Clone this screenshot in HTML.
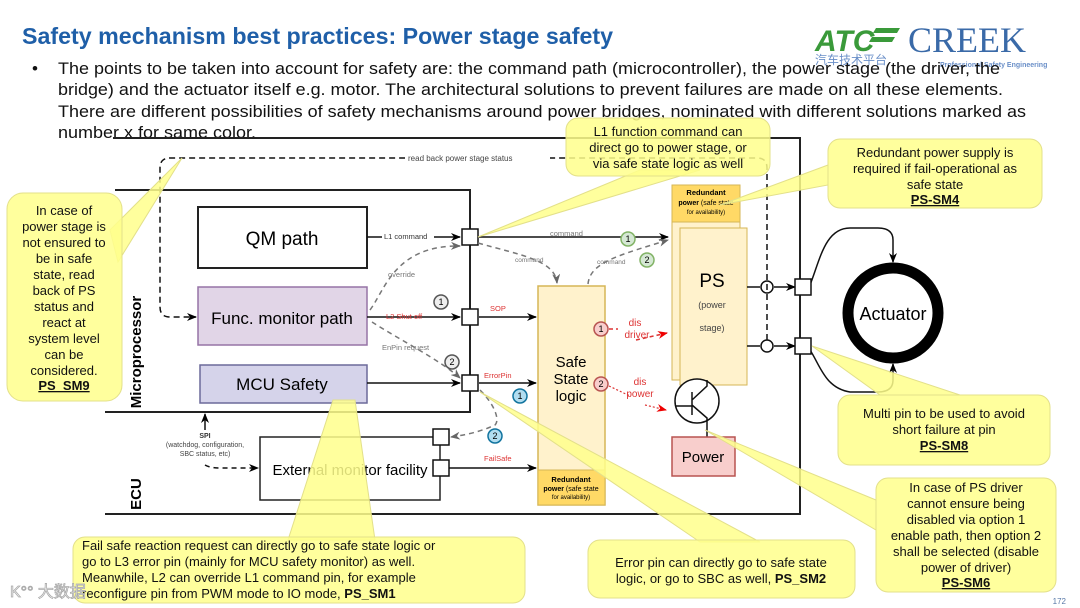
<!DOCTYPE html>
<html><head><meta charset="utf-8"><style>
html,body{margin:0;padding:0;background:#fff;}
svg{display:block;font-family:"Liberation Sans","Noto Sans CJK SC",sans-serif;}
</style></head><body>
<svg width="1080" height="608" viewBox="0 0 1080 608" xmlns="http://www.w3.org/2000/svg">
<defs>
<marker id="ab" markerWidth="10" markerHeight="8" refX="9" refY="4" orient="auto" markerUnits="userSpaceOnUse"><path d="M0,0 L10,4 L0,8 L3,4z" fill="#000"/></marker>
<marker id="ag" markerWidth="10" markerHeight="8" refX="9" refY="4" orient="auto" markerUnits="userSpaceOnUse"><path d="M0,0 L10,4 L0,8 L3,4z" fill="#666"/></marker>
<marker id="ar" markerWidth="10" markerHeight="8" refX="9" refY="4" orient="auto" markerUnits="userSpaceOnUse"><path d="M0,0 L10,4 L0,8 L3,4z" fill="#e00"/></marker>
</defs>
<!-- title -->
<text x="22" y="44" font-size="23" font-weight="bold" fill="#1f5fa8" textLength="591" lengthAdjust="spacingAndGlyphs">Safety mechanism best practices: Power stage safety</text>
<!-- logo -->
<text x="815" y="51" font-size="30" font-weight="bold" font-style="italic" fill="#3a9a3a">ATC</text>
<path d="M876,28 L900,28 L897,33 L873,33z M872,37 L895,37 L892,42 L869,42z" fill="#3a9a3a"/>
<text x="815" y="64" font-size="12" fill="#6a8fc8">汽车技术平台</text>
<text x="908" y="52" font-size="36" font-family="Liberation Serif,serif" fill="#3a6aa8">CREEK</text>
<text x="940" y="67" font-size="7" fill="#6a8fc8" font-weight="bold">Professional Safety Engineering</text>
<!-- bullet text -->
<g font-size="17" fill="#111">
<text x="32" y="74">•</text>
<text x="58" y="74" textLength="942" lengthAdjust="spacingAndGlyphs">The points to be taken into account for safety are: the command path (microcontroller), the power stage (the driver, the</text>
<text x="58" y="95" textLength="945" lengthAdjust="spacingAndGlyphs">bridge) and the actuator itself e.g. motor. The architectural solutions to prevent failures are made on all these elements.</text>
<text x="58" y="117" textLength="968" lengthAdjust="spacingAndGlyphs">There are different possibilities of safety mechanisms around power bridges, nominated with different solutions marked as</text>
<text x="58" y="138" textLength="198" lengthAdjust="spacingAndGlyphs">number x for same color.</text>
</g>
<!-- ECU frame -->
<g stroke="#222" stroke-width="2" fill="none">
<path d="M113,138 L800,138 L800,514 L105,514"/>
<path d="M115,190 L470,190 L470,412 L105,412"/>
</g>
<text transform="translate(141,352) rotate(-90)" font-size="15" font-weight="bold" text-anchor="middle">Microprocessor</text>
<text transform="translate(141,494) rotate(-90)" font-size="15" font-weight="bold" text-anchor="middle">ECU</text>
<!-- boxes -->
<rect x="198" y="207" width="169" height="61" fill="#fff" stroke="#222" stroke-width="2"/>
<text x="282" y="245" font-size="19" text-anchor="middle">QM path</text>
<rect x="198" y="287" width="169" height="58" fill="#e1d5e7" stroke="#9673a6" stroke-width="1.5"/>
<text x="282" y="324" font-size="17" text-anchor="middle">Func. monitor path</text>
<rect x="200" y="365" width="167" height="38" fill="#d5d3ea" stroke="#6c6a9a" stroke-width="1.5"/>
<text x="282" y="390" font-size="17" text-anchor="middle">MCU Safety</text>
<rect x="260" y="437" width="180" height="63" fill="#fff" stroke="#222" stroke-width="1.5"/>
<text x="350" y="475" font-size="15" text-anchor="middle">External monitor facility</text>
<!-- safe state logic -->
<rect x="538" y="286" width="67" height="219" fill="#fff2cc" stroke="#d6b656" stroke-width="1.5"/>
<rect x="538" y="470" width="67" height="35" fill="#ffd966" stroke="#d6b656" stroke-width="1"/>
<text x="571" y="367" font-size="15" text-anchor="middle">Safe</text>
<text x="571" y="384" font-size="15" text-anchor="middle">State</text>
<text x="571" y="401" font-size="15" text-anchor="middle">logic</text>
<text x="571" y="482" font-size="7.5" font-weight="bold" text-anchor="middle">Redundant</text>
<text x="571" y="491" font-size="7" text-anchor="middle"><tspan font-weight="bold">power</tspan> (safe state</text>
<text x="571" y="499" font-size="6" text-anchor="middle">for availability)</text>
<!-- PS -->
<rect x="672" y="185" width="68" height="37" fill="#ffd966" stroke="#d6b656"/>
<text x="706" y="195" font-size="7.5" font-weight="bold" text-anchor="middle">Redundant</text>
<text x="706" y="205" font-size="7" text-anchor="middle"><tspan font-weight="bold">power</tspan> (safe state</text>
<text x="706" y="214" font-size="6" text-anchor="middle">for availability)</text>
<rect x="672" y="222" width="68" height="158" fill="#fff2cc" stroke="#d6b656"/>
<rect x="680" y="228" width="67" height="157" fill="#fff2cc" stroke="#d6b656"/>
<text x="712" y="287" font-size="19" text-anchor="middle">PS</text>
<text x="712" y="308" font-size="9" fill="#444" text-anchor="middle">(power</text>
<text x="712" y="331" font-size="9" fill="#444" text-anchor="middle">stage)</text>
<!-- transistor -->
<circle cx="697" cy="401" r="22" fill="#fff" stroke="#111" stroke-width="1.5"/>
<path d="M676,406 L692,406 M692,392 L692,415 M692,400 L707,386 L707,380 M692,405 L707,418 L707,437" stroke="#111" stroke-width="1.5" fill="none"/>
<rect x="672" y="437" width="63" height="39" fill="#f8cecc" stroke="#b85450" stroke-width="1.5"/>
<text x="703" y="462" font-size="15" text-anchor="middle">Power</text>
<!-- actuator -->
<circle cx="893" cy="313" r="45" fill="#fff" stroke="#000" stroke-width="11"/>
<text x="893" y="320" font-size="18" text-anchor="middle">Actuator</text>
<path d="M810,285 C820,260 825,228 850,228 L878,228 Q893,228 893,240 L893,262" stroke="#111" stroke-width="1.5" fill="none" marker-end="url(#ab)"/>
<path d="M810,350 C820,365 825,388 850,392 L878,392 Q893,392 893,380 L893,364" stroke="#111" stroke-width="1.5" fill="none" marker-end="url(#ab)"/>
<!-- PS outputs -->
<g stroke="#111" stroke-width="1.5" fill="none">
<path d="M747,287 L760,287 M774,287 L795,287" marker-end="url(#ab)"/>
<path d="M747,346 L760,346 M774,346 L795,346" marker-end="url(#ab)"/>
</g>
<circle cx="767" cy="287" r="6" fill="#fff" stroke="#111" stroke-width="1.5"/>
<circle cx="767" cy="346" r="6" fill="#fff" stroke="#111" stroke-width="1.5"/>
<!-- read back -->
<path d="M767,340 L767,168 Q767,158 757,158 L170,158 Q160,158 160,168 L160,307 Q160,317 170,317 L196,317" stroke="#111" stroke-width="1.5" stroke-dasharray="6,4" fill="none" marker-end="url(#ab)"/>
<rect x="405" y="151" width="145" height="13" fill="#fff"/>
<text x="408" y="161" font-size="8" fill="#444">read back power stage status</text>
<!-- main connectors -->
<g stroke="#111" stroke-width="1.5" fill="none">
<path d="M367,237 L460,237" marker-end="url(#ab)"/>
<path d="M479,237 L668,237" marker-end="url(#ab)"/>
<path d="M367,317 L460,317" marker-end="url(#ab)"/>
<path d="M479,317 L536,317" marker-end="url(#ab)"/>
<path d="M367,383 L460,383" marker-end="url(#ab)"/>
<path d="M479,383 L536,383" marker-end="url(#ab)"/>
<path d="M449,468 L536,468" marker-end="url(#ab)"/>
<path d="M205,430 L205,414" marker-end="url(#ab)"/>
</g>
<path d="M205,465 Q210,468 220,468 L258,468" stroke="#111" stroke-width="1.5" stroke-dasharray="5,4" fill="none" marker-end="url(#ab)"/>
<text x="205" y="438" font-size="7" font-weight="bold" text-anchor="middle" fill="#333">SPI</text>
<text x="205" y="447" font-size="7" text-anchor="middle" fill="#444">(watchdog, configuration,</text>
<text x="205" y="456" font-size="7" text-anchor="middle" fill="#444">SBC status, etc)</text>
<!-- pins -->
<g fill="#fff" stroke="#111" stroke-width="1.5">
<rect x="462" y="229" width="16" height="16"/>
<rect x="462" y="309" width="16" height="16"/>
<rect x="462" y="375" width="16" height="16"/>
<rect x="433" y="429" width="16" height="16"/>
<rect x="433" y="460" width="16" height="16"/>
<rect x="795" y="279" width="16" height="16"/>
<rect x="795" y="338" width="16" height="16"/>
</g>
<!-- labels on lines -->
<g font-size="7.5">
<rect x="382" y="231" width="52" height="10" fill="#fff"/>
<text x="384" y="239" fill="#333">L1 command</text>
<text x="386" y="319" fill="#d33">L2 Shut off</text>
<text x="490" y="311" fill="#d33">SOP</text>
<text x="484" y="378" fill="#d33">ErrorPin</text>
<text x="484" y="461" fill="#d33">FailSafe</text>
<text x="550" y="236" fill="#777">command</text>
<text x="515" y="262" fill="#777" font-size="6.5">command</text>
<text x="597" y="264" fill="#777" font-size="6.5">command</text>
<text x="388" y="277" fill="#777">override</text>
<text x="382" y="350" fill="#777">EnPin request</text>
</g>
<!-- gray dashed -->
<g stroke="#777" stroke-width="1.5" stroke-dasharray="5,4" fill="none">
<path d="M370,310 C385,290 395,245 460,246" marker-end="url(#ag)"/>
<path d="M478,243 C520,255 555,260 557,283" marker-end="url(#ag)"/>
<path d="M588,284 C590,262 620,255 668,240" marker-end="url(#ag)"/>
<path d="M372,322 C400,340 440,360 460,378" marker-end="url(#ag)"/>
<path d="M480,390 C495,405 500,420 495,425 C480,432 465,435 451,437" marker-end="url(#ag)"/>
</g>
<!-- red -->
<path d="M609,329 L618,329 M636,340 L667,333" stroke="#d33" stroke-width="1.5" stroke-dasharray="4,3" fill="none" marker-end="url(#ar)"/>
<path d="M609,386 L630,396 M645,405 L666,410" stroke="#d33" stroke-width="1.2" stroke-dasharray="2,2" fill="none" marker-end="url(#ar)"/>
<text x="635" y="326" font-size="10" fill="#d33" text-anchor="middle">dis</text>
<text x="637" y="338" font-size="10" fill="#d33" text-anchor="middle">driver</text>
<text x="640" y="385" font-size="10" fill="#d33" text-anchor="middle">dis</text>
<text x="640" y="397" font-size="10" fill="#d33" text-anchor="middle">power</text>
<!-- number circles -->
<g font-size="9" text-anchor="middle" stroke-width="1.5">
<circle cx="441" cy="302" r="7" fill="#eee" stroke="#555"/><text x="441" y="305">1</text>
<circle cx="452" cy="362" r="7" fill="#eee" stroke="#555"/><text x="452" y="365">2</text>
<circle cx="628" cy="239" r="7" fill="#d5e8d4" stroke="#82b366"/><text x="628" y="242">1</text>
<circle cx="647" cy="260" r="7" fill="#d5e8d4" stroke="#82b366"/><text x="647" y="263">2</text>
<circle cx="601" cy="329" r="7" fill="#f8cecc" stroke="#b85450"/><text x="601" y="332">1</text>
<circle cx="601" cy="384" r="7" fill="#f8cecc" stroke="#b85450"/><text x="601" y="387">2</text>
<circle cx="520" cy="396" r="7" fill="#b1ddf0" stroke="#10739e"/><text x="520" y="399">1</text>
<circle cx="495" cy="436" r="7" fill="#b1ddf0" stroke="#10739e"/><text x="495" y="439">2</text>
</g>
<!-- callouts -->
<g fill="#ffff8c" fill-opacity="0.85" stroke="#e3e08a" stroke-width="1">
<path d="M110,230 L182,158 L118,262z"/>
<rect x="7" y="193" width="115" height="208" rx="16"/>
<path d="M640,170 L700,170 L478,237z"/>
<rect x="566" y="118" width="204" height="58" rx="12"/>
<path d="M828,165 L828,185 L720,205z"/>
<rect x="828" y="139" width="214" height="69" rx="12"/>
<path d="M880,395 L960,395 L812,346z"/>
<rect x="838" y="395" width="212" height="70" rx="12"/>
<path d="M876,500 L876,530 L705,430z"/>
<rect x="876" y="478" width="180" height="114" rx="12"/>
<path d="M700,542 L760,542 L480,392z"/>
<rect x="588" y="540" width="267" height="58" rx="12"/>
<path d="M288,540 L375,540 L355,400 L333,400z"/>
<rect x="73" y="537" width="452" height="66" rx="12"/>
</g>
<g font-size="13" fill="#111" text-anchor="middle">
<text x="64" y="215">In case of</text>
<text x="64" y="231">power stage is</text>
<text x="64" y="247">not ensured to</text>
<text x="64" y="263">be in safe</text>
<text x="64" y="279">state, read</text>
<text x="64" y="295">back of PS</text>
<text x="64" y="311">status and</text>
<text x="64" y="327">react at</text>
<text x="64" y="343">system level</text>
<text x="64" y="359">can be</text>
<text x="64" y="375">considered.</text>
<text x="64" y="390" font-weight="bold" text-decoration="underline">PS_SM9</text>
<text x="668" y="136">L1 function command can</text>
<text x="668" y="152">direct go to power stage, or</text>
<text x="668" y="168">via safe state logic as well</text>
<text x="935" y="157">Redundant power supply is</text>
<text x="935" y="173">required if fail-operational as</text>
<text x="935" y="189">safe state</text>
<text x="935" y="204" font-weight="bold" text-decoration="underline">PS-SM4</text>
<text x="944" y="418">Multi pin to be used to avoid</text>
<text x="944" y="434">short failure at pin</text>
<text x="944" y="450" font-weight="bold" text-decoration="underline">PS-SM8</text>
<text x="966" y="492">In case of PS driver</text>
<text x="966" y="508">cannot ensure being</text>
<text x="966" y="524">disabled via option 1</text>
<text x="966" y="540">enable path, then option 2</text>
<text x="966" y="556">shall be selected (disable</text>
<text x="966" y="572">power of driver)</text>
<text x="966" y="587" font-weight="bold" text-decoration="underline">PS-SM6</text>
<text x="721" y="567">Error pin can directly go to safe state</text>
<text x="721" y="583">logic, or go to SBC as well, <tspan font-weight="bold">PS_SM2</tspan></text>
</g>
<g font-size="13" fill="#111">
<text x="82" y="550">Fail safe reaction request can directly go to safe state logic or</text>
<text x="82" y="566">go to L3 error pin (mainly for MCU safety monitor) as well.</text>
<text x="82" y="582">Meanwhile, L2 can override L1 command pin, for example</text>
<text x="82" y="598">reconfigure pin from PWM mode to IO mode, <tspan font-weight="bold">PS_SM1</tspan></text>
</g>
<text x="10" y="597" font-size="16" fill="#fff" stroke="#aaa" stroke-width="0.8">K°° 大数据</text>
<text x="1066" y="604" font-size="8" fill="#5a7aa8" text-anchor="end">172</text>
</svg>
</body></html>
